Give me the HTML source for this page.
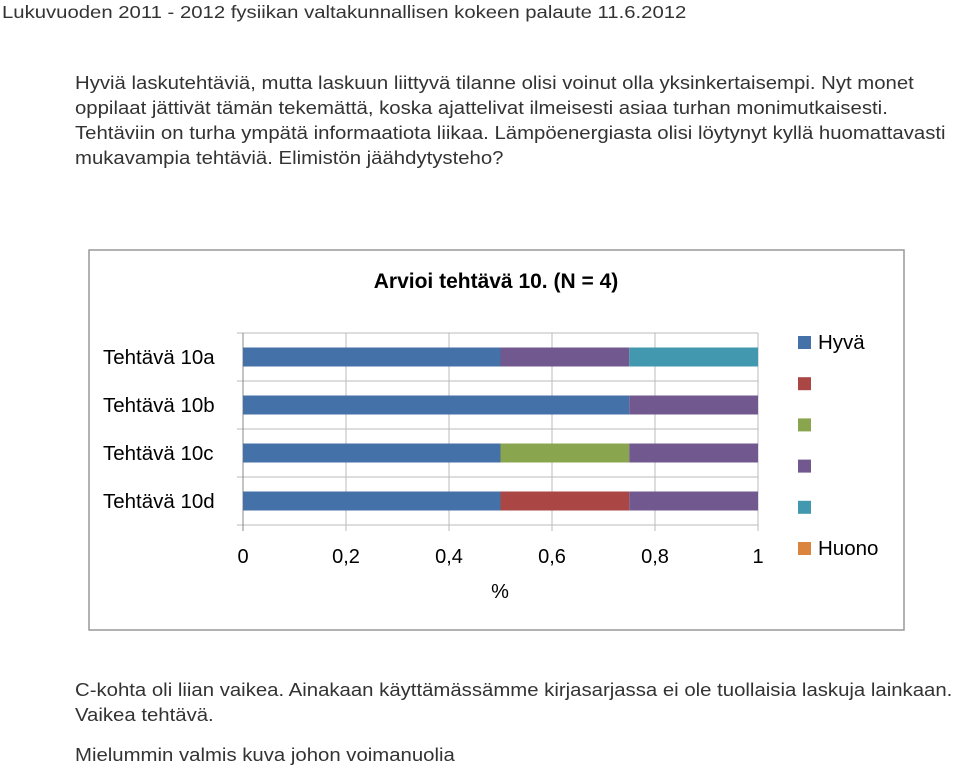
<!DOCTYPE html>
<html><head><meta charset="utf-8"><style>
body{margin:0;width:960px;height:770px;background:#fff;overflow:hidden;position:relative;font-family:"Liberation Sans",sans-serif;}
.t{position:absolute;left:75px;font-size:18px;color:#333;white-space:nowrap;transform:scaleX(1.13);transform-origin:0 0;}
</style></head><body>
<div class="t" style="left:2px;top:2px;font-size:17.5px;transform:scaleX(1.16)">Lukuvuoden 2011 - 2012 fysiikan valtakunnallisen kokeen palaute 11.6.2012</div>
<div class="t" style="top:73px">Hyviä laskutehtäviä, mutta laskuun liittyvä tilanne olisi voinut olla yksinkertaisempi. Nyt monet</div>
<div class="t" style="top:98px">oppilaat jättivät tämän tekemättä, koska ajattelivat ilmeisesti asiaa turhan monimutkaisesti.</div>
<div class="t" style="top:123px">Tehtäviin on turha ympätä informaatiota liikaa. Lämpöenergiasta olisi löytynyt kyllä huomattavasti</div>
<div class="t" style="top:148px">mukavampia tehtäviä. Elimistön jäähdytysteho?</div>
<div class="t" style="top:680px">C-kohta oli liian vaikea. Ainakaan käyttämässämme kirjasarjassa ei ole tuollaisia laskuja lainkaan.</div>
<div class="t" style="top:705px">Vaikea tehtävä.</div>
<div class="t" style="top:745px">Mielummin valmis kuva johon voimanuolia</div>
<svg id="chart" width="960" height="770" style="position:absolute;left:0;top:0" font-family="Liberation Sans, sans-serif"></svg>
<script>
const categories=["Tehtävä 10a","Tehtävä 10b","Tehtävä 10c","Tehtävä 10d"];
const sHyva=[0.5,0.75,0.5,0.5];
const s2=[0,0,0,0.25];
const s3=[0,0,0.25,0];
const s4=[0.25,0.25,0.25,0.25];
const s5=[0.25,0,0,0];
const sHuono=[0,0,0,0];
const seriesNames=["Hyvä","","","","","Huono"];
const tickLabels=["0","0,2","0,4","0,6","0,8","1"];
const tickValues=[0,0.2,0.4,0.6,0.8,1];
const series=[sHyva,s2,s3,s4,s5,sHuono];
const colors=["#4471a8","#aa4643","#89a54e","#71588f","#4198af","#db843d"];
const svg=document.getElementById('chart');const NS="http://www.w3.org/2000/svg";
function mk(t,a,txt){const e=document.createElementNS(NS,t);for(const k in a)e.setAttribute(k,a[k]);if(txt!==undefined)e.textContent=txt;svg.appendChild(e);return e;}
const X0=243,X1=758,Y0=333,Y1=525;
const xs=v=>X0+v*(X1-X0);
const band=(Y1-Y0)/categories.length;
const yc=i=>Y0+band*(i+0.5);
let e=mk('rect',{x:89,y:250,width:815,height:380,fill:'none',stroke:'#999','stroke-width':1.5});

e=mk('text',{x:496,y:288,'font-size':21,'font-weight':'bold','text-anchor':'middle',fill:'#000'},'Arvioi tehtävä 10.  (N = 4)');

for(let i=0;i<=categories.length;i++){const y=Y0+band*i;
e=mk('line',{x1:X0-6,x2:X1,y1:y,y2:y,stroke:'#bbb'});
}
tickValues.forEach((v,i)=>{
e=mk('line',{x1:xs(v),x2:xs(v),y1:Y0,y2:Y1+6,stroke:'#bbb'});

e=mk('text',{x:xs(v),y:563,'font-size':20,'text-anchor':'middle',fill:'#000'},tickLabels[i]);
});
e=mk('line',{x1:X0,x2:X0,y1:Y0,y2:Y1+6,stroke:'#888'});

e=mk('text',{x:500,y:598,'font-size':20,'text-anchor':'middle',fill:'#000'},'%');

categories.forEach((c,i)=>{
e=mk('text',{x:103,y:yc(i)+7,'font-size':20.5,fill:'#000'},c);

let acc=0;series.forEach((s,j)=>{const v=s[i];if(v>0){
e=mk('rect',{x:xs(acc),y:yc(i)-9.5,width:xs(acc+v)-xs(acc),height:19,fill:colors[j]});
}acc+=v;});});
seriesNames.forEach((n,j)=>{const y=342+j*41.2;
e=mk('rect',{x:798,y:y-6,width:13,height:13,fill:colors[j]});

if(n){e=mk('text',{x:818,y:y+7,'font-size':20.5,fill:'#000'},n);
}});
</script>
</body></html>
